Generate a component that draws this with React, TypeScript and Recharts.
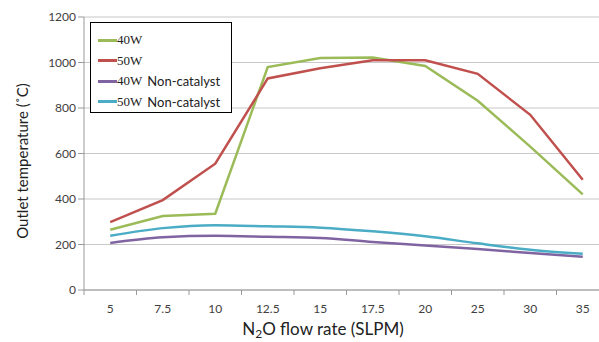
import { LineChart, Line, XAxis, YAxis, CartesianGrid } from 'recharts';

const flowRates = ['5', '7.5', '10', '12.5', '15', '17.5', '20', '25', '30', '35'];
const w40 = [265, 325, 335, 980, 1020, 1022, 985, 832, 630, 420];
const w50 = [298, 395, 555, 930, 975, 1010, 1010, 950, 770, 485];
const w40NonCat = [207, 232, 238, 234, 229, 211, 196, 180, 163, 146];
const w50NonCat = [238, 272, 285, 280, 274, 258, 236, 205, 177, 159];
const yTicks = [0, 200, 400, 600, 800, 1000, 1200];

const data = flowRates.map((rate, i) => ({
  rate,
  w40: w40[i],
  w50: w50[i],
  w40NonCat: w40NonCat[i],
  w50NonCat: w50NonCat[i],
}));

const series = [
  { key: 'w40', power: '40W', extra: '', color: '#9BBB59', type: 'linear' },
  { key: 'w50', power: '50W', extra: '', color: '#C0504D', type: 'linear' },
  { key: 'w40NonCat', power: '40W', extra: 'Non-catalyst', color: '#8064A2', type: 'monotone' },
  { key: 'w50NonCat', power: '50W', extra: 'Non-catalyst', color: '#4BACC6', type: 'monotone' },
] as const;

const FONT = 'Lato, "Open Sans", sans-serif';
const HALF_BAND = 26.25;

const XTick = (props: any) => {
  const { x, y, payload, index } = props;
  return (
    <g>
      <line x1={x + HALF_BAND} y1={y - 8} x2={x + HALF_BAND} y2={y - 3} stroke="#999" />
      {index === 0 && <line x1={x - HALF_BAND} y1={y - 8} x2={x - HALF_BAND} y2={y - 3} stroke="#999" />}
      <text x={x} y={y + 15} textAnchor="middle" fontSize={12} fill="#404040" fontFamily={FONT}>
        {payload.value}
      </text>
    </g>
  );
};

const Legend = () => (
  <div
    style={{
      position: 'absolute',
      left: 90,
      top: 22,
      width: 142,
      height: 91,
      border: '1px solid #000',
      background: '#fff',
      boxSizing: 'border-box',
      paddingTop: 7,
    }}
  >
    {series.map((s) => (
      <div key={s.key} style={{ display: 'flex', alignItems: 'center', height: 20.5, paddingLeft: 7 }}>
        <div style={{ width: 19, height: 3, background: s.color }} />
        <span style={{ fontFamily: '"Liberation Serif", serif', fontSize: 13, color: '#222' }}>{s.power}</span>
        {s.extra && (
          <span style={{ fontFamily: FONT, fontSize: 13, color: '#222', marginLeft: 5 }}>{s.extra}</span>
        )}
      </div>
    ))}
  </div>
);

export default function App() {
  return (
    <div style={{ position: 'absolute', left: 0, top: 0, width: 599, height: 342, overflow: 'hidden', background: '#fff' }}>
      <LineChart width={612} height={342} data={data} margin={{ top: 17, right: 3, bottom: 0, left: 0 }}>
        <CartesianGrid vertical={false} stroke="#c8c8c8" strokeWidth={1.2} />
        <XAxis
          dataKey="rate"
          height={52}
          stroke="#999"
          tickLine={false}
          tick={<XTick />}
          interval={0}
          padding={{ left: HALF_BAND, right: HALF_BAND }}
        />
        <YAxis
          width={84}
          domain={[0, 1200]}
          ticks={yTicks}
          stroke="#999"
          tickSize={6}
          tick={{ fontSize: 12, fill: '#404040', fontFamily: FONT }}
          interval={0}
        />
        {series.map((s) => (
          <Line
            key={s.key}
            dataKey={s.key}
            type={s.type}
            stroke={s.color}
            strokeWidth={2.5}
            dot={false}
            isAnimationActive={false}
          />
        ))}
        <text
          x={22}
          y={161}
          transform="rotate(-90 22 161)"
          textAnchor="middle"
          dominantBaseline="central"
          fontSize={15}
          fill="#222"
          fontFamily={FONT}
        >
          Outlet temperature (˚C)
        </text>
        <text x={323} y={335} textAnchor="middle" fontSize={17} fill="#222" fontFamily={FONT}>
          N
          <tspan fontSize={12} dy={3}>2</tspan>
          <tspan dy={-3}>O flow rate (SLPM)</tspan>
        </text>
      </LineChart>
      <Legend />
    </div>
  );
}
